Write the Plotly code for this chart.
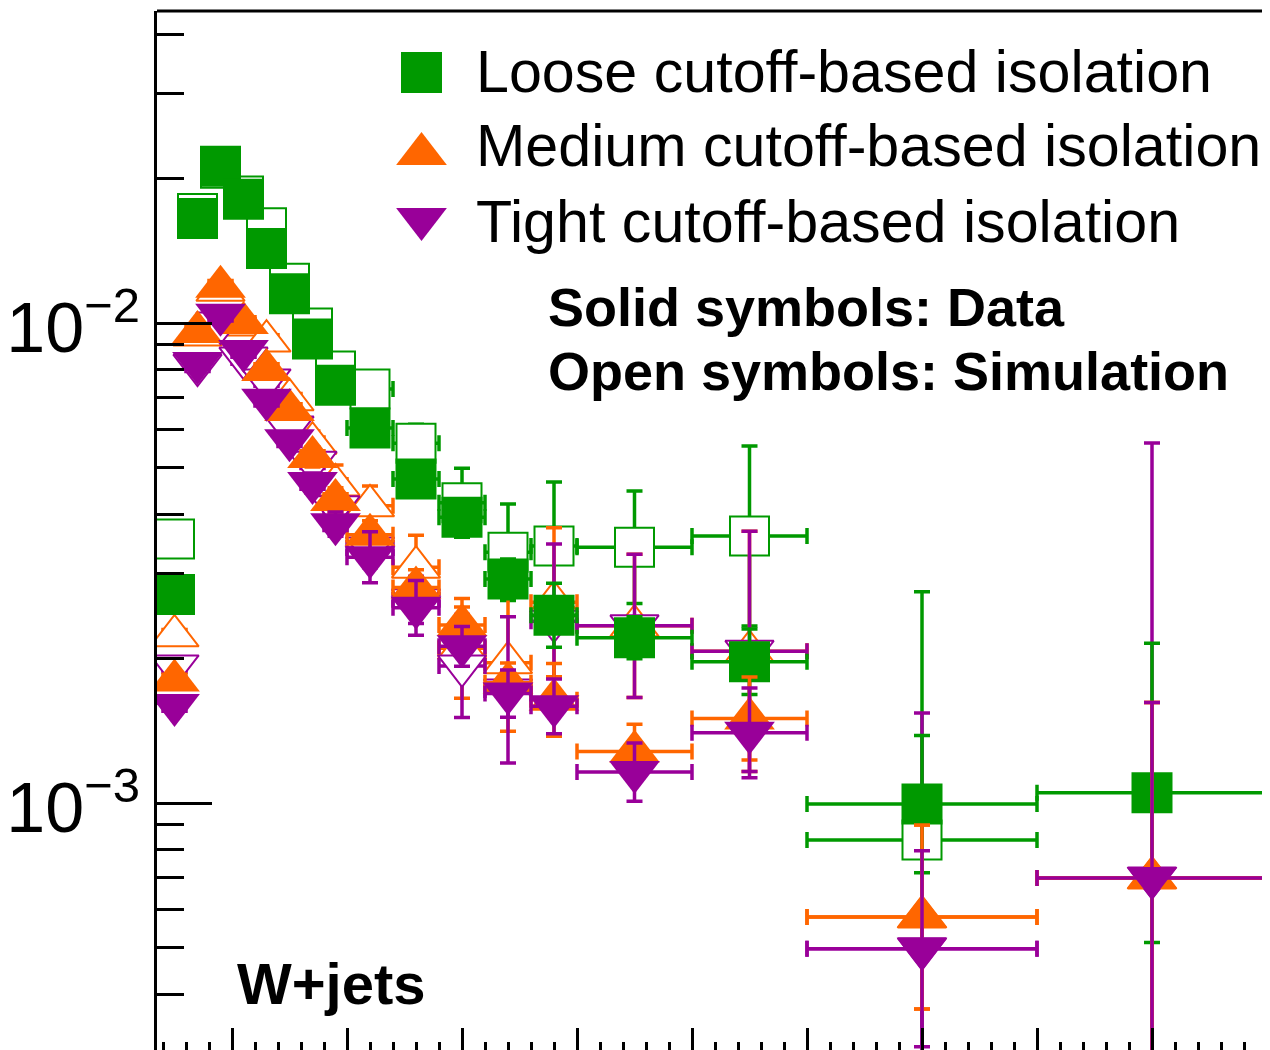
import plotly.graph_objects as go

# ---------------- data ----------------
bin_edges = [2, 3, 4, 5, 6, 7, 8, 9, 10, 12, 14, 16, 18, 20, 25, 30, 40, 50]

loose_data = [2.72e-3, 1.65e-2, 2.12e-2, 1.81e-2, 1.43e-2, 1.15e-2, 9.26e-3, 7.42e-3, 6.04e-3,
              4.73e-3, 3.94e-3, 2.93e-3, 2.46e-3, 2.21e-3, 1.97e-3, 9.95e-4, 1.05e-3]
loose_sim = [3.55e-3, 1.69e-2, 2.10e-2, 1.84e-2, 1.58e-2, 1.21e-2, 9.76e-3, 7.94e-3, 7.29e-3,
             5.62e-3, 4.22e-3, 3.33e-3, 3.43e-3, 3.41e-3, 3.60e-3, 8.37e-4, None]
medium_data = [1.80e-3, 9.58e-3, 1.19e-2, 1.00e-2, 7.98e-3, 6.59e-3, 5.26e-3, 4.28e-3, 3.62e-3,
               2.81e-3, 2.35e-3, 1.78e-3, 1.64e-3, 1.28e-3, 1.50e-3, 5.79e-4, 6.98e-4]
medium_sim = [2.23e-3, 9.44e-3, 1.17e-2, 9.90e-3, 9.17e-3, 6.92e-3, 5.62e-3, 4.60e-3, 4.16e-3,
              3.10e-3, 2.10e-3, 1.96e-3, 2.62e-3, 2.34e-3, 2.07e-3, 5.79e-4, 6.98e-4]
tight_data = [1.60e-3, 8.25e-3, 1.04e-2, 8.74e-3, 6.92e-3, 5.70e-3, 4.64e-3, 3.81e-3, 3.25e-3,
              2.55e-3, 2.12e-3, 1.69e-3, 1.59e-3, 1.16e-3, 1.40e-3, 4.97e-4, 6.98e-4]
tight_sim = [1.93e-3, 8.17e-3, 1.00e-2, 8.45e-3, 7.61e-3, 6.07e-3, 5.13e-3, 4.14e-3, 3.40e-3,
             2.65e-3, 1.93e-3, 1.72e-3, 2.39e-3, 2.34e-3, 2.07e-3, 4.97e-4, 6.98e-4]

# multiplicative uncertainty factors (band = [v/f, v*f])
loose_data_err = [1.02, 1.02, 1.02, 1.02, 1.02, 1.03, 1.03, 1.04, 1.05, 1.06, 1.08, 1.10, 1.166, 1.106, 1.17, 1.39, 2.05]
loose_sim_err = [1.03, 1.02, 1.02, 1.02, 1.03, 1.03, 1.04, 1.05, 1.07, 1.095, 1.18, 1.26, 1.36, 1.31, 1.54, 3.29, None]
medium_data_err = [1.03, 1.03, 1.03, 1.03, 1.03, 1.04, 1.05, 1.06, 1.07, 1.09, 1.09, 1.10, 1.19, 1.14, 1.22, 1.555, 2.32]
medium_sim_err = [1.04, 1.03, 1.03, 1.03, 1.04, 1.05, 1.06, 1.10, 1.10, 1.166, 1.27, 1.39, 1.43, 1.41, 1.78, 1.555, 2.32]
tight_data_err = [1.03, 1.03, 1.03, 1.03, 1.03, 1.04, 1.05, 1.06, 1.13, 1.14, 1.10, 1.12, 1.14, 1.15, 1.24, 1.60, 2.32]
tight_sim_err = [1.04, 1.03, 1.03, 1.03, 1.04, 1.05, 1.06, 1.08, 1.10, 1.12, 1.28, 1.42, 1.45, 1.41, 1.78, 3.10, 8.06]

legend_labels = ["Loose cutoff-based isolation", "Medium cutoff-based isolation", "Tight cutoff-based isolation"]
y_tick_vals = [1e-3, 1e-2]
y_tick_text = ["10<sup>\u22123</sup>", "10<sup>\u22122</sup>"]

# ---------------- styling / layout ----------------
GREEN, ORANGE, PURPLE = "#009900", "#ff6600", "#990099"
FONT = "Liberation Sans"
W, H = 1270, 1050          # target picture
L, T = 157, 11             # plot-area left / top in the picture
OFF = 8                    # default page margin of the html body
TRI = 44                   # triangle marker size
SQ = 41                    # square marker size
EW = 3.5                   # error-bar thickness

centers = [(a + b) / 2 for a, b in zip(bin_edges[:-1], bin_edges[1:])]
halfw = [(b - a) / 2 for a, b in zip(bin_edges[:-1], bin_edges[1:])]


def px(x):
    return (x - L) / (W - L)


def py(y):
    return (H - y) / (H - T)


fig = go.Figure()


def add_series(vals, efac, color, symbol, size, is_open):
    plus = [None if v is None else v * f - v for v, f in zip(vals, efac)]
    minus = [None if v is None else v - v / f for v, f in zip(vals, efac)]
    marker = dict(symbol=symbol, size=size, color=color, line=dict(width=0, color=color))
    if is_open:
        marker = dict(symbol=symbol, size=size - 2, color="white", line=dict(width=2, color=color))
    fig.add_trace(go.Scatter(
        x=centers, y=vals, mode="markers", showlegend=False, marker=marker,
        error_x=dict(type="data", array=halfw, color=color, thickness=EW, width=8),
        error_y=dict(type="data", symmetric=False, array=plus, arrayminus=minus,
                     color=color, thickness=EW, width=8),
    ))


# simulation (open) first, data (solid) on top
add_series(loose_sim, loose_sim_err, GREEN, "square", SQ, True)
add_series(medium_sim, medium_sim_err, ORANGE, "triangle-up", TRI, True)
add_series(tight_sim, tight_sim_err, PURPLE, "triangle-down", TRI, True)
add_series(loose_data, loose_data_err, GREEN, "square", SQ, False)
add_series(medium_data, medium_data_err, ORANGE, "triangle-up", TRI, False)
add_series(tight_data, tight_data_err, PURPLE, "triangle-down", TRI, False)

# legend keys (drawn in a pixel-space overlay)
key_x = 421.5
key_y = [72.5, 148.5 + TRI / 8, 224.5 - TRI / 8]
for (sym, col, sz), ky in zip([("square", GREEN, SQ), ("triangle-up", ORANGE, TRI), ("triangle-down", PURPLE, TRI)], key_y):
    fig.add_trace(go.Scatter(x=[key_x], y=[ky], xaxis="x2", yaxis="y2", mode="markers", showlegend=False,
                             marker=dict(symbol=sym, size=sz, color=col, line=dict(width=0))))

minor_y = [m * 10 ** e for e in (-4, -3, -2) for m in range(2, 10)]

annotations = []
for lab, cy in zip(legend_labels, [71, 146, 221]):
    annotations.append(dict(text=lab, x=px(474), y=py(cy), xref="paper", yref="paper", xanchor="left",
                            yanchor="middle", showarrow=False, font=dict(family=FONT, size=59.2, color="black")))
annotations += [
    dict(text="<b>Solid symbols: Data</b>", x=px(546), y=py(307), xref="paper", yref="paper", xanchor="left",
         yanchor="middle", showarrow=False, font=dict(family=FONT, size=54, color="black")),
    dict(text="<b>Open symbols: Simulation</b>", x=px(546), y=py(371), xref="paper", yref="paper",
         xanchor="left", yanchor="middle", showarrow=False, font=dict(family=FONT, size=54, color="black")),
    dict(text="<b>W+jets</b>", x=px(235), y=py(983), xref="paper", yref="paper", xanchor="left",
         yanchor="middle", showarrow=False, font=dict(family=FONT, size=58, color="black")),
    dict(text="(13 TeV)", x=px(1226), y=py(3), xref="paper", yref="paper", xanchor="right",
         yanchor="bottom", showarrow=False, font=dict(family=FONT, size=43, color="black")),
]

fig.update_layout(
    width=W - OFF, height=H - OFF,
    margin=dict(l=L - OFF, r=0, t=T - OFF, b=0, pad=0),
    paper_bgcolor="white", plot_bgcolor="white",
    showlegend=False,
    xaxis=dict(range=[2 - 6 / 23, 2 - 6 / 23 + (W - L) / 23], showline=False, showgrid=False, zeroline=False,
               showticklabels=False, ticks="inside", tickmode="linear", tick0=0, dtick=5, ticklen=22,
               tickwidth=2.5, tickcolor="black", automargin=False,
               minor=dict(ticks="inside", tick0=0, dtick=1, ticklen=8, tickwidth=2.5, tickcolor="black",
                          showgrid=False)),
    yaxis=dict(type="log", range=[-2 - (H - 323) / 480, -2 + (323 - T) / 480], showgrid=False, zeroline=False,
               showline=True, linewidth=3, linecolor="black", ticks="inside", tickmode="array",
               tickvals=y_tick_vals, ticktext=y_tick_text, ticklen=55, tickwidth=2.5, tickcolor="black",
               tickfont=dict(family=FONT, size=70, color="black"), ticklabelstandoff=0,
               ticklabelshift=4, automargin=False,
               minor=dict(ticks="inside", tickmode="array", tickvals=minor_y, ticklen=27, tickwidth=2.5,
                          tickcolor="black", showgrid=False)),
    xaxis2=dict(range=[L, W], overlaying="x", visible=False),
    yaxis2=dict(range=[H, T], overlaying="y", visible=False),
    shapes=[dict(type="line", xref="paper", yref="paper", x0=0, x1=1, y0=1, y1=1,
                 line=dict(color="black", width=3))],
    annotations=annotations,
)

fig.write_html("out.html")
